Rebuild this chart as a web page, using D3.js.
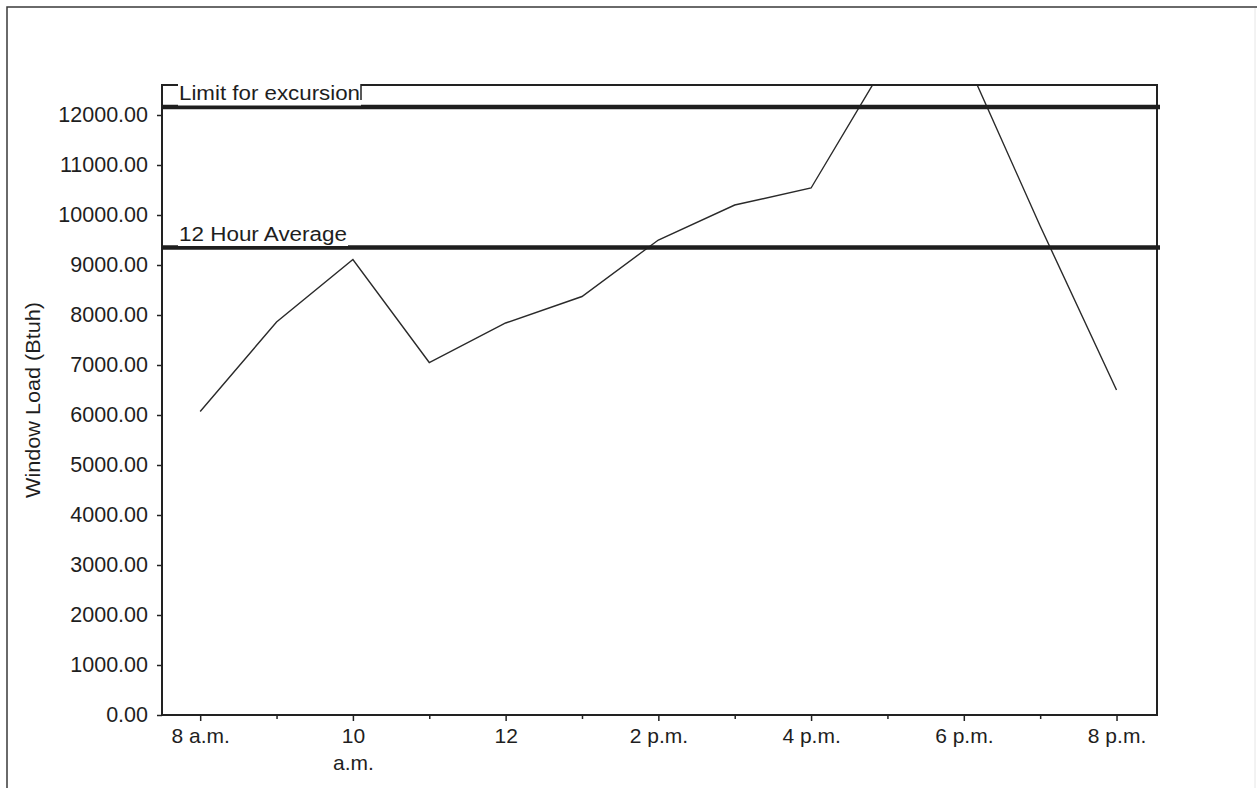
<!DOCTYPE html>
<html>
<head>
<meta charset="utf-8">
<script src="https://cdn.jsdelivr.net/npm/d3@7"></script>
<style>
  html, body { margin: 0; padding: 0; background: #fff; }
  svg { display: block; }
  text { font-family: "Liberation Sans", Arial, sans-serif; fill: #1e1e1e; }
</style>
</head>
<body>
<svg id="chart" width="1257" height="788"></svg>
<script>
// ---- data ----
const hours = [8, 9, 10, 11, 12, 13, 14, 15, 16, 17, 18, 19, 20];
const windowLoad = [6070, 7860, 9110, 7050, 7840, 8370, 9500, 10200, 10540, 13100, 13200, 9780, 6500];
const hourLabels = { 8: ["8 a.m."], 10: ["10", "a.m."], 12: ["12"], 14: ["2 p.m."], 16: ["4 p.m."], 18: ["6 p.m."], 20: ["8 p.m."] };
const yTicks = [0, 1000, 2000, 3000, 4000, 5000, 6000, 7000, 8000, 9000, 10000, 11000, 12000];
const refLines = [
  { name: "Limit for excursion", value: 12160, labelWidth: 181 },
  { name: "12 Hour Average", value: 9350, labelWidth: 168 }
];
const yTitle = "Window Load (Btuh)";

// ---- layout ----
const svg = d3.select("#chart");
const L = 162, R = 1157, T = 85, B = 715;

const x = d3.scaleLinear().domain([7.5, 20.53]).range([L, R]);
const y = d3.scaleLinear().domain([0, 12600]).range([B, T]);

// outer frame
svg.append("path")
  .attr("d", "M7,788 V7 H1257")
  .attr("fill", "none").attr("stroke", "#3a3a3a").attr("stroke-width", 1.5);
svg.append("line")
  .attr("x1", 1255).attr("x2", 1255).attr("y1", 8).attr("y2", 788)
  .attr("stroke", "#e6e6e6").attr("stroke-width", 1);

// clip
svg.append("defs").append("clipPath").attr("id", "plotClip")
  .append("rect").attr("x", L).attr("y", T).attr("width", R - L).attr("height", B - T);

// data line
const line = d3.line().x((d, i) => x(hours[i])).y(d => y(d));
svg.append("path")
  .datum(windowLoad)
  .attr("clip-path", "url(#plotClip)")
  .attr("d", line)
  .attr("fill", "none")
  .attr("stroke", "#2a2a2a")
  .attr("stroke-width", 1.4);

// plot frame
svg.append("rect")
  .attr("x", L).attr("y", T).attr("width", R - L).attr("height", B - T)
  .attr("fill", "none").attr("stroke", "#222").attr("stroke-width", 2);

// reference lines
refLines.forEach(r => {
  const yy = y(r.value);
  svg.append("line")
    .attr("x1", L).attr("x2", R + 3).attr("y1", yy).attr("y2", yy)
    .attr("stroke", "#1e1e1e").attr("stroke-width", 4.5);
});

// labels with white background
refLines.forEach((r, i) => {
  const yy = y(r.value);
  const x0 = 178;
  const x1 = x0 + r.labelWidth + 2;
  const top = i === 0 ? T - 1 : yy - 25;
  svg.append("rect")
    .attr("x", x0).attr("y", top)
    .attr("width", x1 - x0).attr("height", yy - 1.5 - top)
    .attr("fill", "#fff");
  if (i === 0) {
    svg.append("line")
      .attr("x1", x1).attr("x2", x1).attr("y1", T - 1).attr("y2", yy - 7)
      .attr("stroke", "#222").attr("stroke-width", 1.5);
  }
  svg.append("text")
    .attr("x", x0 + 1)
    .attr("y", yy - 7)
    .attr("font-size", 19.5)
    .attr("textLength", r.labelWidth)
    .attr("lengthAdjust", "spacingAndGlyphs")
    .text(r.name);
});

// y axis
const yAxis = d3.axisLeft(y).tickValues(yTicks).tickFormat(d3.format(".2f"))
  .tickSize(5).tickPadding(9);
const gy = svg.append("g").attr("transform", `translate(${L},0)`).call(yAxis);
gy.select(".domain").remove();
gy.selectAll(".tick line").attr("stroke", "#222").attr("stroke-width", 1.5);
gy.selectAll(".tick text").attr("font-size", 21.5).attr("fill", "#1e1e1e")
  .style("font-family", '"Liberation Sans", Arial, sans-serif');

// x axis
const xAxis = d3.axisBottom(x).tickValues(hours).tickFormat("").tickSize(5);
const gx = svg.append("g").attr("transform", `translate(0,${B})`).call(xAxis);
gx.select(".domain").remove();
gx.selectAll(".tick line")
  .attr("stroke", "#222").attr("stroke-width", 1.5)
  .attr("y2", d => hourLabels[d] ? 6 : 4);
gx.selectAll(".tick").each(function(d) {
  const lbl = hourLabels[d];
  if (!lbl) return;
  const t = d3.select(this).append("text")
    .attr("text-anchor", "middle")
    .attr("font-size", 21)
    .attr("fill", "#1e1e1e")
    .style("font-family", '"Liberation Sans", Arial, sans-serif');
  lbl.forEach((s, k) => {
    t.append("tspan").attr("x", 0).attr("y", 28 + k * 27).text(s);
  });
});

// y title
svg.append("text")
  .attr("transform", "translate(40,400) rotate(-90)")
  .attr("text-anchor", "middle")
  .attr("font-size", 20)
  .attr("textLength", 196)
  .attr("lengthAdjust", "spacingAndGlyphs")
  .text(yTitle);
</script>
</body>
</html>
